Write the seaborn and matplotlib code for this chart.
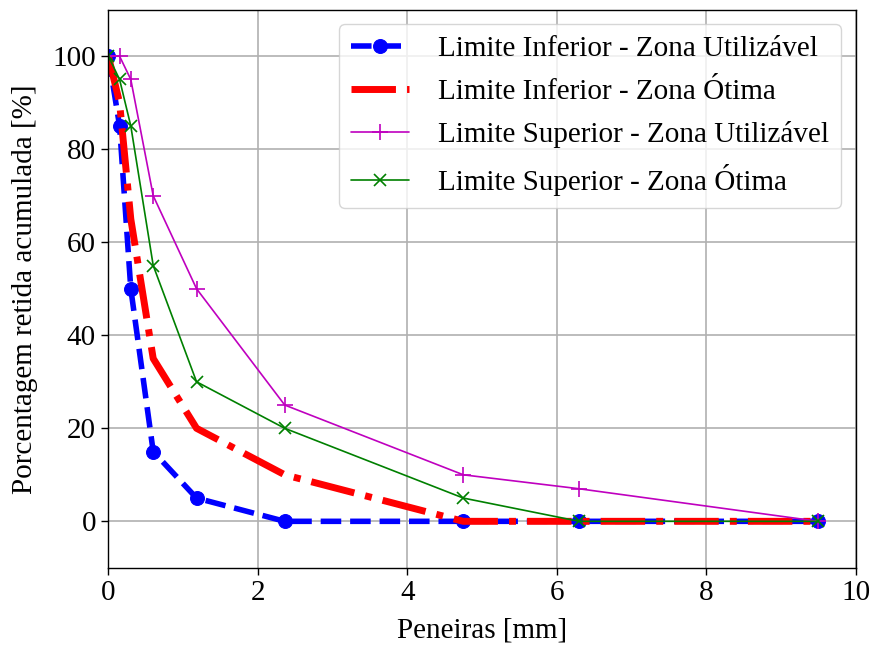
import numpy as np
import seaborn as sns
import matplotlib.pyplot as plt

# Peneiras (mm) e limites granulométricos
peneiras = [0, 0.15, 0.3, 0.6, 1.18, 2.36, 4.75, 6.3, 9.5]
inf_utilizavel = [100, 85, 50, 15, 5, 0, 0, 0, 0]
inf_otima = [100, 90, 65, 35, 20, 10, 0, 0, 0]
sup_utilizavel = [100, 100, 95, 70, 50, 25, 10, 7, 0]
sup_otima = [100, 95, 85, 55, 30, 20, 5, 0, 0]
rotulos = ["Limite Inferior - Zona Utilizável", "Limite Inferior - Zona Ótima",
           "Limite Superior - Zona Utilizável", "Limite Superior - Zona Ótima"]

sns.set_style("ticks")
plt.rcParams['font.family'] = ['Liberation Serif', 'DejaVu Serif']
plt.rcParams['font.size'] = 21
plt.rcParams['text.color'] = 'black'
plt.rcParams['axes.labelcolor'] = 'black'
plt.rcParams['xtick.color'] = 'black'
plt.rcParams['ytick.color'] = 'black'
plt.rcParams['axes.edgecolor'] = 'black'

fig, ax = plt.subplots(figsize=(8.74, 6.46), dpi=100)
fig.subplots_adjust(left=0.124, right=0.979, top=0.985, bottom=0.121)

sns.lineplot(x=peneiras, y=inf_utilizavel, ax=ax, color="blue", linestyle="--",
             linewidth=4, marker="o", markersize=10, markeredgecolor="blue")
sns.lineplot(x=peneiras, y=inf_otima, ax=ax, color="red", linestyle="-.",
             linewidth=5)
sns.lineplot(x=peneiras, y=sup_utilizavel, ax=ax, color="m", linestyle="-",
             linewidth=1.2, marker="+", markersize=11, markeredgewidth=1.2,
             markeredgecolor="m")
sns.lineplot(x=peneiras, y=sup_otima, ax=ax, color="green", linestyle="-",
             linewidth=1.2, marker="x", markersize=9, markeredgewidth=1.2,
             markeredgecolor="green")

ax.set_xlim(0, 10)
ax.set_ylim(-10, 110)
ax.set_xticks(range(0, 11, 2))
ax.set_yticks(range(0, 101, 20))
ax.grid(True, color="#b0b0b0", linewidth=1.2)
ax.tick_params(labelsize=21, direction="out", length=5, width=1, pad=4)
for s in ax.spines.values():
    s.set_linewidth(1)
ax.set_xlabel("Peneiras [mm]", fontsize=21, labelpad=8)
ax.set_ylabel("Porcentagem retida acumulada [%]", fontsize=21, labelpad=10)

linhas = [l for l in ax.lines if len(l.get_xdata()) > 0][:4]
ax.legend(linhas, rotulos, loc="upper right", fontsize=21, handlelength=2.0,
          handletextpad=1.0, borderpad=0.4, labelspacing=0.55)

plt.savefig("out.png", dpi=100)
